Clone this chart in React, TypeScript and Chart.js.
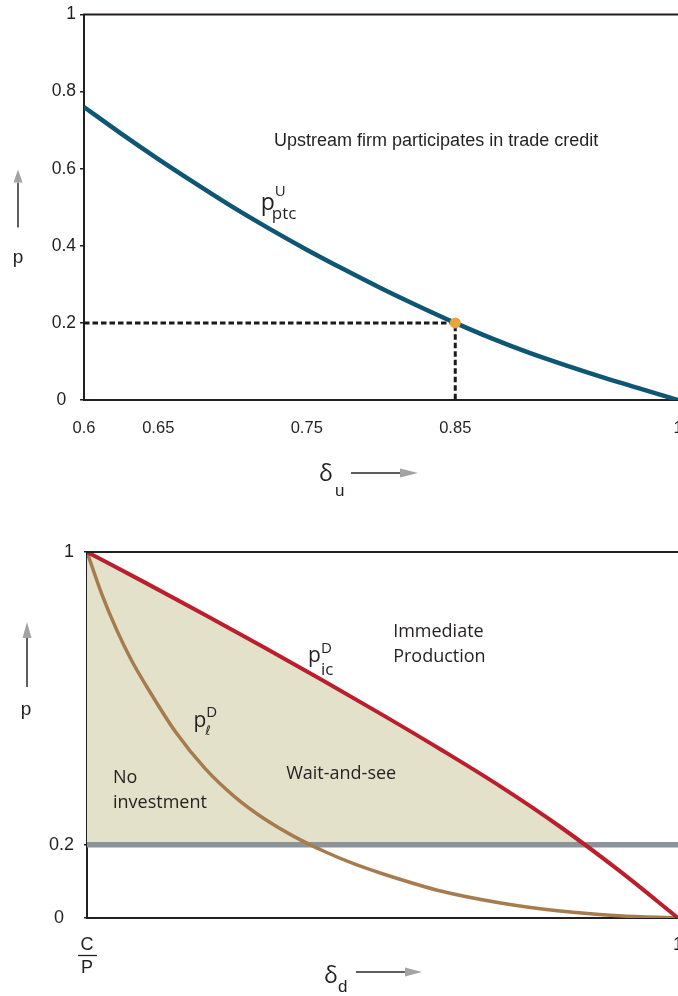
import React, { useEffect, useRef } from 'react';
import { Chart, registerables } from 'chart.js';

Chart.register(...registerables);

// ---------- Upper panel: upstream firm ----------
const DELTA_U = [0.6, 0.625, 0.65, 0.675, 0.7, 0.725, 0.75, 0.775, 0.8, 0.825, 0.85, 0.875, 0.9, 0.925, 0.95, 0.975, 1.0];
const P_PTC_U = [0.76, 0.691, 0.625, 0.562, 0.501, 0.444, 0.39, 0.339, 0.29, 0.244, 0.2, 0.159, 0.122, 0.089, 0.058, 0.029, 0.0];
const U_X_TICKS = [0.6, 0.65, 0.75, 0.85, 1];
const U_Y_TICKS = [0, 0.2, 0.4, 0.6, 0.8, 1];
const CRITICAL_DELTA_U = 0.85;
const CRITICAL_P = 0.2;

// ---------- Lower panel: downstream firm ----------
const DELTA_D_IC = [0, 0.1, 0.2, 0.3, 0.4, 0.5, 0.6, 0.7, 0.8, 0.9, 1];
const P_IC_D = [1, 0.915, 0.828, 0.739, 0.648, 0.555, 0.459, 0.359, 0.25, 0.13, 0];
const DELTA_D_L = [0, 0.025, 0.05, 0.075, 0.1, 0.15, 0.2, 0.25, 0.3, 0.35, 0.4, 0.45, 0.5, 0.6, 0.7, 0.8, 0.9, 1];
const P_L_D = [1, 0.885, 0.788, 0.705, 0.635, 0.508, 0.408, 0.331, 0.271, 0.223, 0.183, 0.149, 0.121, 0.073, 0.041, 0.019, 0.006, 0];
const D_X_TICKS = [0, 1];
const D_X_LABELS = [['C', 'P'], ['1']];
const D_Y_TICKS = [0, 0.2, 1];
const P_LEVEL = 0.2;

const BLUE = '#0d5674';
const RED = '#bb1e2d';
const BROWN = '#a67c4e';
const GREY = '#8b949b';
const BEIGE = '#e4e1ca';
const ORANGE = '#eca33a';
const INK = '#231f20';
const ARROW_HEAD = '#a3a3a6';

const ARIAL = '"Liberation Sans", Arial, sans-serif';
const MYRIAD = '"Open Sans", "Noto Sans", sans-serif';

function text(ctx: CanvasRenderingContext2D, s: string, x: number, y: number, font: string, align: CanvasTextAlign = 'left', baseline: CanvasTextBaseline = 'alphabetic') {
  ctx.font = font;
  ctx.fillStyle = INK;
  ctx.textAlign = align;
  ctx.textBaseline = baseline;
  ctx.fillText(s, x, y);
}

function symbol(ctx: CanvasRenderingContext2D, x: number, y: number, main: string, sup: string, sub: string,
  mainFont: string, supFont: string, subFont: string, supDy: number, subDy: number, subDx: number) {
  text(ctx, main, x, y, mainFont);
  const w = ctx.measureText(main).width;
  text(ctx, sup, x + w, y + supDy, supFont);
  text(ctx, sub, x + w + subDx, y + subDy, subFont);
}

function hArrow(ctx: CanvasRenderingContext2D, x0: number, x1: number, xHead: number, y: number) {
  ctx.strokeStyle = '#2a2a2a';
  ctx.lineWidth = 1.5;
  ctx.beginPath();
  ctx.moveTo(x0, y);
  ctx.lineTo(x1, y);
  ctx.stroke();
  ctx.fillStyle = ARROW_HEAD;
  ctx.beginPath();
  ctx.moveTo(x1, y - 4.5);
  ctx.lineTo(xHead, y);
  ctx.lineTo(x1, y + 4.5);
  ctx.closePath();
  ctx.fill();
}

function vArrow(ctx: CanvasRenderingContext2D, x: number, y0: number, y1: number, yHead: number) {
  ctx.strokeStyle = '#2a2a2a';
  ctx.lineWidth = 1.5;
  ctx.beginPath();
  ctx.moveTo(x, y0);
  ctx.lineTo(x, y1);
  ctx.stroke();
  ctx.fillStyle = ARROW_HEAD;
  ctx.beginPath();
  ctx.moveTo(x - 4.5, y1);
  ctx.lineTo(x, yHead);
  ctx.lineTo(x + 4.5, y1);
  ctx.closePath();
  ctx.fill();
}

const topDecor = {
  id: 'topDecor',
  afterDraw(chart: any) {
    const { ctx, chartArea: a, scales } = chart;
    const x = scales.x;
    const y = scales.y;
    ctx.save();
    ctx.strokeStyle = INK;
    ctx.lineWidth = 2;
    ctx.beginPath();
    ctx.moveTo(a.left - 1, a.top);
    ctx.lineTo(chart.width, a.top);
    ctx.stroke();

    text(ctx, 'Upstream firm participates in trade credit', x.getPixelForValue(0.728), y.getPixelForValue(0.673), `18px ${ARIAL}`, 'left', 'middle');

    symbol(ctx, x.getPixelForValue(0.719), y.getPixelForValue(0.492), 'p', 'U', 'ptc',
      `23px ${MYRIAD}`, `15px ${MYRIAD}`, `17px ${MYRIAD}`, -14, 9, -3);

    // y axis label with arrow
    vArrow(ctx, a.left - 66, a.top + 213, a.top + 168, a.top + 155);
    text(ctx, 'p', a.left - 66, a.top + 243, `19px ${ARIAL}`, 'center', 'middle');

    // x axis label with arrow
    text(ctx, 'δ', a.left + 235, a.bottom + 81, `23px ${MYRIAD}`);
    text(ctx, 'u', a.left + 251, a.bottom + 96, `17px ${ARIAL}`);
    hArrow(ctx, a.left + 267, a.left + 316, a.left + 334, a.bottom + 73);
    ctx.restore();
  },
};

const bottomDecor = {
  id: 'bottomDecor',
  afterDraw(chart: any) {
    const { ctx, chartArea: a, scales } = chart;
    const x = scales.x;
    const y = scales.y;
    ctx.save();
    ctx.strokeStyle = INK;
    ctx.lineWidth = 2;
    ctx.beginPath();
    ctx.moveTo(a.left - 1, a.top);
    ctx.lineTo(chart.width, a.top);
    ctx.stroke();

    const F = `18px ${MYRIAD}`;
    text(ctx, 'Immediate', x.getPixelForValue(0.518), y.getPixelForValue(0.781), F, 'left', 'middle');
    text(ctx, 'Production', x.getPixelForValue(0.518), y.getPixelForValue(0.713), F, 'left', 'middle');
    text(ctx, 'Wait-and-see', x.getPixelForValue(0.337), y.getPixelForValue(0.393), F, 'left', 'middle');
    text(ctx, 'No', x.getPixelForValue(0.044), y.getPixelForValue(0.383), F, 'left', 'middle');
    text(ctx, 'investment', x.getPixelForValue(0.044), y.getPixelForValue(0.314), F, 'left', 'middle');

    symbol(ctx, x.getPixelForValue(0.374), y.getPixelForValue(0.699), 'p', 'D', 'ic',
      `21px ${MYRIAD}`, `15px ${MYRIAD}`, `17px ${MYRIAD}`, -9, 13, 0);
    symbol(ctx, x.getPixelForValue(0.18), y.getPixelForValue(0.522), 'p', 'D', 'ℓ',
      `21px ${MYRIAD}`, `15px ${MYRIAD}`, `italic 13px "DejaVu Sans", sans-serif`, -10, 8, -1);

    // fraction bar under the C of the first x tick
    const fx = x.getPixelForValue(D_X_TICKS[0]);
    ctx.strokeStyle = INK;
    ctx.lineWidth = 1.3;
    ctx.beginPath();
    ctx.moveTo(fx - 9, a.bottom + 37.5);
    ctx.lineTo(fx + 10, a.bottom + 37.5);
    ctx.stroke();

    // y axis label with arrow
    vArrow(ctx, a.left - 60, a.top + 135, a.top + 86, a.top + 70);
    text(ctx, 'p', a.left - 61, a.top + 158, `19px ${ARIAL}`, 'center', 'middle');

    // x axis label with arrow
    text(ctx, 'δ', a.left + 237, a.bottom + 65, `23px ${MYRIAD}`);
    text(ctx, 'd', a.left + 251, a.bottom + 74, `17px ${ARIAL}`);
    hArrow(ctx, a.left + 269, a.left + 318, a.left + 335, a.bottom + 54);
    ctx.restore();
  },
};

function topConfig(): any {
  return {
    type: 'line',
    data: {
      datasets: [
        {
          type: 'scatter',
          data: [{ x: CRITICAL_DELTA_U, y: CRITICAL_P }],
          pointRadius: 5.5,
          pointBackgroundColor: ORANGE,
          pointBorderWidth: 0,
          showLine: false,
        },
        {
          data: DELTA_U.map((v, i) => ({ x: v, y: P_PTC_U[i] })),
          borderColor: BLUE,
          borderWidth: 4.5,
          pointRadius: 0,
          cubicInterpolationMode: 'monotone',
          fill: false,
        },
        {
          data: [
            { x: DELTA_U[0], y: CRITICAL_P },
            { x: CRITICAL_DELTA_U, y: CRITICAL_P },
            { x: CRITICAL_DELTA_U, y: 0 },
          ],
          borderColor: '#1a1a1a',
          borderWidth: 3,
          borderDash: [5.5, 3],
          pointRadius: 0,
          tension: 0,
          fill: false,
        },
      ],
    },
    options: {
      animation: false,
      responsive: true,
      maintainAspectRatio: false,
      events: [],
      layout: { padding: { top: 12, right: 42, left: 0, bottom: 0 } },
      plugins: { legend: { display: false }, tooltip: { enabled: false } },
      scales: {
        x: {
          type: 'linear',
          min: U_X_TICKS[0],
          max: U_X_TICKS[U_X_TICKS.length - 1],
          afterBuildTicks: (axis: any) => { axis.ticks = U_X_TICKS.map((v) => ({ value: v })); },
          afterFit: (s: any) => { s.height = 110; },
          grid: { display: false, drawTicks: false },
          border: { display: true, color: INK, width: 2 },
          ticks: {
            padding: 19,
            autoSkip: false,
            maxRotation: 0,
            color: INK,
            font: { family: ARIAL, size: 16.5 },
            callback: (v: number) => String(v),
          },
        },
        y: {
          type: 'linear',
          min: 0,
          max: 1,
          afterBuildTicks: (axis: any) => { axis.ticks = U_Y_TICKS.map((v) => ({ value: v })); },
          afterFit: (s: any) => { s.width = 84; },
          grid: { drawOnChartArea: false, drawTicks: true, tickLength: 4, color: INK, lineWidth: 1.5 },
          border: { display: true, color: INK, width: 2 },
          ticks: {
            padding: 4,
            color: INK,
            font: { family: ARIAL, size: 17.5 },
            callback: (v: number) => (v === 0 ? '0  ' : String(v)),
          },
        },
      },
    },
    plugins: [topDecor],
  };
}

function bottomConfig(): any {
  return {
    type: 'line',
    data: {
      datasets: [
        {
          data: DELTA_D_IC.map((v, i) => ({ x: v, y: P_IC_D[i] })),
          borderColor: RED,
          borderWidth: 4,
          pointRadius: 0,
          cubicInterpolationMode: 'monotone',
          fill: { target: { value: P_LEVEL }, above: BEIGE, below: 'rgba(0,0,0,0)' },
        },
        {
          data: DELTA_D_L.map((v, i) => ({ x: v, y: P_L_D[i] })),
          borderColor: BROWN,
          borderWidth: 3.5,
          pointRadius: 0,
          cubicInterpolationMode: 'monotone',
          fill: false,
        },
        {
          data: [
            { x: D_X_TICKS[0], y: P_LEVEL },
            { x: D_X_TICKS[1], y: P_LEVEL },
          ],
          borderColor: GREY,
          borderWidth: 5.5,
          pointRadius: 0,
          fill: false,
        },
      ],
    },
    options: {
      animation: false,
      responsive: true,
      maintainAspectRatio: false,
      events: [],
      layout: { padding: { top: 42, right: 42, left: 0, bottom: 0 } },
      plugins: {
        legend: { display: false },
        tooltip: { enabled: false },
        filler: { drawTime: 'beforeDatasetsDraw', propagate: false },
      },
      scales: {
        x: {
          type: 'linear',
          min: 0,
          max: 1,
          afterBuildTicks: (axis: any) => { axis.ticks = D_X_TICKS.map((v) => ({ value: v })); },
          afterFit: (s: any) => { s.height = 78; },
          grid: { display: false, drawTicks: false },
          border: { display: true, color: INK, width: 2 },
          ticks: {
            padding: 16,
            autoSkip: false,
            maxRotation: 0,
            color: INK,
            font: { family: ARIAL, size: 18, lineHeight: 1.25 },
            callback: (_v: number, i: number) => D_X_LABELS[i],
          },
        },
        y: {
          type: 'linear',
          min: 0,
          max: 1,
          afterBuildTicks: (axis: any) => { axis.ticks = D_Y_TICKS.map((v) => ({ value: v })); },
          afterFit: (s: any) => { s.width = 87; },
          grid: { drawOnChartArea: false, drawTicks: true, tickLength: 3, color: INK, lineWidth: 1.5 },
          border: { display: true, color: INK, width: 2 },
          ticks: {
            padding: 10,
            color: INK,
            font: { family: ARIAL, size: 18 },
            callback: (v: number) => (v === 0 ? '0  ' : String(v)),
          },
        },
      },
    },
    plugins: [bottomDecor],
  };
}

function ChartBox({ make, top, height }: { make: () => any; top: number; height: number }) {
  const ref = useRef<HTMLCanvasElement | null>(null);
  useEffect(() => {
    if (!ref.current) return;
    const chart = new Chart(ref.current, make());
    return () => chart.destroy();
  }, [make]);
  return (
    <div style={{ position: 'absolute', left: 0, top, width: 720, height }}>
      <canvas ref={ref} />
    </div>
  );
}

export default function App() {
  return (
    <div
      style={{
        position: 'fixed',
        left: 0,
        top: 0,
        width: 678,
        height: 996,
        overflow: 'hidden',
        background: '#ffffff',
      }}
    >
      <ChartBox make={topConfig} top={0} height={510} />
      <ChartBox make={bottomConfig} top={510} height={486} />
    </div>
  );
}
